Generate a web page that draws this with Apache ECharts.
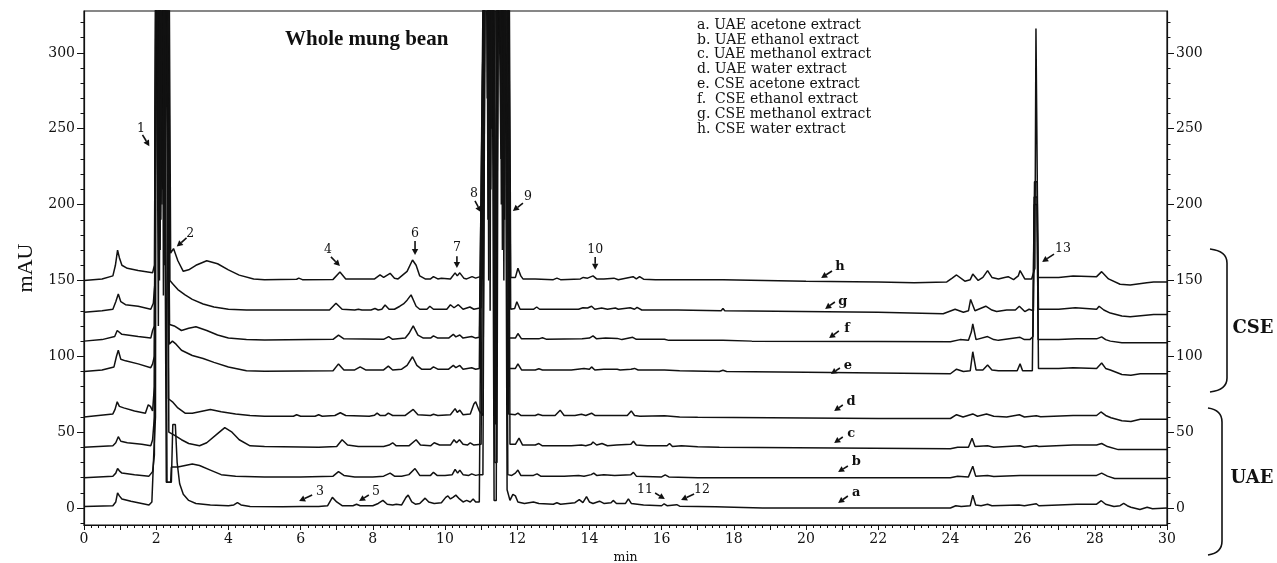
<!DOCTYPE html>
<html>
<head>
<meta charset="utf-8">
<title>Whole mung bean</title>
<script src="https://cdn.jsdelivr.net/npm/echarts@6/dist/echarts.min.js"></script>
<style>
  html, body { margin: 0; padding: 0; background: #fff; }
  #chart { width: 1277px; height: 563px; }
</style>
</head>
<body>
<div id="chart"></div>
<script>
// chromatograms, [min, mAU] (offsets already included)
// 400 = peak running off the top of the plot
const traceA = [[0,1],[0.8,1.5],[0.88,4],[0.93,10],[0.98,8],[1.05,6],[1.3,4.5],[1.6,3],[1.8,2],[1.88,4],[1.93,34],[1.98,60],[2.0,400],[2.05,400],[2.07,180],[2.1,400],[2.16,400],[2.18,210],[2.2,400],[2.24,400],[2.28,17],[2.42,17],[2.46,55],[2.53,55],[2.58,30],[2.65,16],[2.75,9],[2.9,5],[3.1,3],[3.5,2],[4.0,1.5],[4.15,2],[4.25,3.5],[4.35,2],[4.6,1],[5.5,0.8],[6.0,1],[6.5,1],[6.75,1.5],[6.88,7],[7.0,4],[7.15,1.5],[7.45,1.5],[7.55,2.5],[7.65,1.5],[8.0,1.5],[8.15,3],[8.28,5],[8.4,2.5],[8.55,2],[8.65,2.5],[8.8,2],[8.92,7],[8.98,8.5],[9.08,4],[9.18,2.5],[9.3,3],[9.45,6.5],[9.55,4],[9.7,3],[9.9,3.5],[10.02,7],[10.08,8],[10.15,6],[10.22,7],[10.3,8.5],[10.4,6],[10.5,4],[10.6,5],[10.7,4],[10.78,6],[10.85,4],[10.95,4],[11.0,5],[11.08,400],[11.18,400],[11.21,150],[11.24,400],[11.3,400],[11.36,5],[11.42,5],[11.46,400],[11.53,400],[11.56,200],[11.59,400],[11.66,400],[11.72,12],[11.8,5],[11.88,9],[11.95,8],[12.02,4],[12.2,3],[12.45,4],[12.6,3],[13.0,2.5],[13.1,3.5],[13.2,2.5],[13.6,3.5],[13.72,5.5],[13.82,3.5],[13.92,7.5],[14.0,4],[14.1,3],[14.28,4.5],[14.4,3],[14.6,3.5],[14.66,5],[14.75,3],[15.0,3],[15.08,6],[15.16,3],[15.5,2],[16.0,1.5],[16.07,2.8],[16.15,1.5],[16.42,2.2],[16.5,1.2],[17.0,1],[17.5,0.8],[18.0,0.5],[18.8,0],[24.0,0],[24.15,1.5],[24.3,1],[24.55,1.5],[24.62,8.5],[24.7,2],[24.85,1.5],[25.03,2.5],[25.15,1.5],[25.9,2],[25.95,3],[26.05,1.5],[26.38,2.8],[26.45,1.5],[27.0,2],[27.5,2.5],[28.05,2.5],[28.18,4.8],[28.3,2.5],[28.53,1],[28.7,1.5],[28.8,3],[28.9,1.5],[29.0,0.5],[29.25,-1],[29.45,0.5],[29.6,-0.5],[30,0]];
const traceB = [[0,20],[0.8,21],[0.88,23],[0.93,26],[0.98,24.5],[1.05,23],[1.4,22],[1.8,21],[1.9,24],[1.95,35],[1.99,400],[2.06,400],[2.09,150],[2.12,400],[2.19,400],[2.21,260],[2.23,400],[2.27,400],[2.3,17],[2.4,17],[2.42,27],[2.6,27],[2.8,28],[3.0,29],[3.2,28],[3.5,25],[3.8,22],[4.2,21],[5.0,20.5],[6.0,20.5],[6.9,21],[7.05,24],[7.2,21.5],[7.5,20.5],[8.0,20.5],[8.3,21],[8.48,23],[8.6,21],[8.8,21],[9.0,22],[9.17,26],[9.3,21.5],[9.6,21.5],[9.68,23.5],[9.78,21.5],[10.0,21.5],[10.2,22],[10.28,25.5],[10.35,23],[10.41,25],[10.5,22],[10.66,21.5],[10.74,22.5],[10.85,21.5],[10.95,22],[11.05,22],[11.12,400],[11.2,400],[11.23,240],[11.26,400],[11.32,400],[11.38,30],[11.44,30],[11.48,400],[11.56,400],[11.59,170],[11.62,400],[11.68,400],[11.74,22],[11.85,21.5],[11.95,23],[12.02,25],[12.1,21.5],[12.45,21.5],[12.55,22.5],[12.65,21],[13.3,21],[13.7,21.5],[13.85,21],[14.05,22],[14.12,23],[14.2,21.5],[14.4,22],[14.7,21.5],[15.15,22],[15.22,23.5],[15.3,21],[16.0,20.5],[16.1,21.8],[16.2,20.5],[17,20],[24.0,20],[24.2,21],[24.5,20.5],[24.62,27.5],[24.7,21],[25.03,21.5],[25.2,20.8],[25.93,21.5],[26.38,21.5],[27.4,21.5],[28.05,21.5],[28.19,23],[28.35,21],[28.55,19.5],[30,19.5]];
const traceC = [[0,40],[0.8,41],[0.88,43],[0.95,47],[1.02,44],[1.2,43],[1.6,42],[1.85,41],[1.9,45],[1.95,60],[2.0,400],[2.04,400],[2.06,120],[2.09,400],[2.14,400],[2.16,200],[2.19,400],[2.3,400],[2.35,50],[2.5,48],[2.7,45],[2.9,42.5],[3.2,41],[3.4,43],[3.7,49],[3.9,53],[4.1,50],[4.3,45],[4.6,41],[5.0,40.5],[6.5,40],[7.0,40.5],[7.15,45],[7.3,41.5],[7.6,40.5],[8.3,40.5],[8.45,41.5],[8.55,43],[8.65,41],[9.0,41],[9.2,45],[9.32,41.5],[9.6,41],[9.7,43],[9.85,41.5],[10.15,41.5],[10.25,45],[10.32,43],[10.4,45],[10.5,42],[10.62,41.5],[10.7,43],[10.8,41.5],[11.0,42],[11.1,400],[11.16,400],[11.19,190],[11.22,400],[11.35,400],[11.4,55],[11.45,55],[11.5,400],[11.58,400],[11.61,260],[11.64,400],[11.75,400],[11.8,42],[11.95,42],[12.05,46],[12.15,41.5],[12.5,41.5],[12.6,42.5],[12.7,41],[13.5,41],[13.78,41.5],[13.9,41],[14.05,42],[14.1,43.5],[14.2,41.5],[14.35,42.5],[14.5,41],[14.75,41.5],[15.15,42],[15.22,44],[15.3,41.5],[15.6,41],[16.15,41],[16.22,42.5],[16.3,40.5],[16.55,41],[17.0,40.3],[17.6,40],[24.0,39],[24.2,40],[24.5,40],[24.6,46],[24.68,40.5],[25.03,41],[25.2,40],[25.93,41],[26.05,40],[26.2,40.5],[26.38,41],[26.45,40.5],[27.4,41.5],[28.05,41.5],[28.19,42.5],[28.35,40.5],[28.65,38.5],[30,38.5]];
const traceD = [[0,60],[0.8,62],[0.86,65],[0.92,70],[0.98,67],[1.1,66],[1.4,64],[1.7,62.5],[1.78,68],[1.84,67],[1.9,64],[1.95,80],[1.99,400],[2.08,400],[2.11,170],[2.14,400],[2.2,400],[2.23,240],[2.26,400],[2.3,400],[2.34,72],[2.45,70],[2.6,66],[2.8,62.5],[3.0,62.5],[3.3,64],[3.5,65],[3.8,63.5],[4.2,62],[4.6,61],[5.0,60.5],[5.8,60.5],[5.89,61.5],[6.0,60.5],[6.4,60.5],[6.5,61.5],[6.6,60.5],[6.95,61],[7.1,62.8],[7.25,61],[7.9,60.5],[8.05,61.2],[8.12,62.5],[8.2,61],[8.35,61],[8.43,62.5],[8.55,61],[8.9,61],[9.12,65],[9.25,61.5],[9.6,61],[9.68,61.8],[9.8,61],[10.15,61.5],[10.28,65.5],[10.34,63],[10.41,64.5],[10.5,61.5],[10.7,62],[10.8,68.5],[10.85,70],[10.95,64],[11.05,61],[11.12,400],[11.22,400],[11.25,130],[11.28,400],[11.34,400],[11.39,70],[11.43,70],[11.47,400],[11.52,400],[11.55,230],[11.58,400],[11.7,400],[11.76,62],[11.95,61.5],[12.02,62.5],[12.1,61],[12.5,61],[12.58,61.8],[12.7,61],[13.05,61],[13.19,64.5],[13.3,61],[13.6,61],[13.78,61.8],[13.9,61],[14.06,62.5],[14.15,61],[15.05,61],[15.16,64],[15.25,61],[15.4,60.5],[16.08,60.8],[16.5,60],[17.0,59.8],[22,59],[24.0,59],[24.17,61.5],[24.35,60],[24.62,62],[24.75,60.5],[25.0,62],[25.2,60.5],[25.56,60],[25.91,61.5],[26.05,60],[26.38,60.8],[26.5,60.2],[27.4,61],[28.05,61],[28.17,63.3],[28.3,61],[28.45,59.5],[28.75,57.5],[29.0,57],[29.26,58.5],[30,58.5]];
const traceE = [[0,90],[0.5,91],[0.83,93],[0.9,100],[0.95,104],[1.02,98],[1.15,97],[1.5,95],[1.85,92.5],[1.9,95],[1.95,100],[2.01,400],[2.05,400],[2.08,230],[2.11,400],[2.17,400],[2.2,140],[2.23,400],[2.32,400],[2.36,108],[2.45,110],[2.55,108],[2.7,104],[3.0,100.5],[3.3,98.5],[3.6,96],[4.0,93],[4.5,90.5],[5.0,90.2],[6.9,90.5],[7.05,95],[7.2,91],[7.5,91],[7.65,93],[7.8,91],[8.3,91],[8.43,93.5],[8.55,91],[8.8,91.5],[8.95,94],[9.1,99.7],[9.22,94],[9.35,91.5],[9.6,91.5],[9.68,93],[9.8,91.5],[10.1,91.5],[10.23,94],[10.3,92.5],[10.41,94],[10.5,91.5],[10.74,92.5],[10.85,91.5],[10.95,92],[11.08,400],[11.14,400],[11.17,270],[11.2,400],[11.32,400],[11.37,110],[11.42,110],[11.47,400],[11.6,400],[11.63,150],[11.66,400],[11.72,400],[11.78,92],[11.95,92],[12.02,95],[12.12,91],[12.5,91],[12.6,91.8],[12.7,91],[13.5,91],[13.85,92],[14.0,91.5],[14.06,93],[14.15,91],[14.4,91.5],[14.77,91.5],[14.85,91],[15.15,91.5],[15.25,92],[15.35,91],[16.08,91],[16.5,90.5],[17.6,90],[17.7,90.8],[17.8,90],[20,89.5],[22,89],[24.0,88.5],[24.17,91.5],[24.36,90],[24.55,90.5],[24.62,103],[24.71,91],[24.9,91],[25.03,94.3],[25.15,91],[25.33,90.5],[25.6,90.5],[25.85,90.5],[25.93,95],[26.0,90.5],[26.27,90.5],[26.32,200],[26.4,200],[26.44,92],[27.0,92],[27.4,92.5],[28.05,92],[28.19,95.6],[28.3,92],[28.43,91],[28.75,88],[29.0,87.5],[29.26,88.5],[30,88.5]];
const traceF = [[0,110],[0.5,111],[0.85,113],[0.92,117],[0.97,118],[1.05,114.5],[1.5,113],[1.85,112],[1.9,117],[1.95,120],[2.02,400],[2.1,400],[2.13,190],[2.16,400],[2.22,400],[2.25,280],[2.28,400],[2.33,400],[2.37,121],[2.5,120],[2.7,117],[2.9,118.5],[3.1,119.5],[3.4,117],[3.7,114],[4.0,112],[4.5,111],[5.0,110.8],[6.9,111.2],[7.05,114],[7.2,111.5],[8.3,111.2],[8.44,113],[8.55,111.2],[8.9,112],[9.0,115],[9.12,120],[9.25,114],[9.4,112],[9.6,112],[9.68,113.5],[9.8,112],[10.1,112],[10.23,114.5],[10.3,112.8],[10.41,114],[10.5,112],[10.74,113],[10.85,112],[10.95,112.5],[11.1,400],[11.24,400],[11.27,210],[11.3,400],[11.33,400],[11.38,120],[11.43,120],[11.48,400],[11.54,400],[11.57,280],[11.6,400],[11.73,400],[11.78,112],[11.95,112],[12.02,115],[12.12,111.5],[12.6,111.5],[12.7,112.2],[12.8,111.3],[13.8,111.5],[14.0,112],[14.1,113.5],[14.2,111.5],[14.45,112],[14.77,111.8],[14.9,111],[15.2,112.5],[15.3,111.2],[16.08,111.3],[16.2,110.5],[17.7,110.5],[18.5,110],[22.0,109.8],[24.0,109.6],[24.27,111],[24.5,110.5],[24.58,116],[24.62,121.3],[24.71,111],[25.03,113],[25.2,111],[25.33,110.5],[25.93,112.5],[26.05,111],[26.2,111],[26.29,113],[26.32,205],[26.4,205],[26.43,111],[27.0,111],[27.5,111.5],[28.05,111.5],[28.19,112.8],[28.3,111],[28.43,110],[28.75,109],[30,109]];
const traceG = [[0,129],[0.5,130],[0.8,131],[0.88,136],[0.95,141],[1.02,136],[1.15,134],[1.5,133],[1.85,131],[1.92,135],[1.97,150],[2.0,400],[2.07,400],[2.1,270],[2.13,400],[2.21,400],[2.24,160],[2.27,400],[2.34,400],[2.38,150],[2.45,148],[2.6,144],[2.8,140.5],[3.0,137.5],[3.3,134.5],[3.6,132.5],[4.0,131],[4.5,130.5],[6.8,130.5],[6.98,135],[7.15,131],[7.5,130.5],[7.6,131],[7.7,130.5],[7.95,130.5],[8.06,131.5],[8.15,130.5],[8.25,131],[8.34,133.8],[8.45,131],[8.6,131],[8.75,133],[8.85,134.5],[8.95,137],[9.06,140.5],[9.2,133],[9.3,131],[9.5,131],[9.58,133],[9.68,131],[9.9,131],[10.05,131],[10.15,134],[10.25,132],[10.37,134],[10.5,131],[10.69,132.5],[10.8,131],[11.0,132],[11.1,400],[11.19,400],[11.22,300],[11.25,400],[11.34,400],[11.39,135],[11.44,135],[11.48,400],[11.62,400],[11.65,190],[11.68,400],[11.75,400],[11.82,131],[11.93,131.5],[11.99,136],[12.08,131],[12.45,131],[12.54,132.5],[12.62,131],[13.05,131],[13.1,131.5],[13.7,131],[13.82,132],[13.95,131.8],[14.06,133],[14.15,131],[14.34,131.8],[14.5,131],[14.72,131.8],[14.8,131],[15.13,132],[15.25,131],[15.32,132.2],[15.45,130.5],[16.45,130.5],[16.5,130],[17.65,130],[17.7,131.5],[17.75,130],[22.0,129],[23.8,128],[24.13,131],[24.36,129],[24.5,130],[24.56,137.5],[24.68,130],[24.98,133],[25.15,130.5],[25.28,129.5],[25.56,130.5],[25.8,130.5],[25.91,133],[26.06,129.5],[26.18,131],[26.3,130],[26.33,215],[26.4,215],[26.44,131],[27.0,131],[27.46,132],[28.05,131],[28.12,133],[28.25,130.5],[28.43,128.5],[28.75,126.5],[28.98,126],[29.63,127.5],[30,127.5]];
const traceH = [[0,150],[0.5,151],[0.8,153],[0.87,160],[0.93,170],[0.98,165],[1.05,160],[1.2,158],[1.5,156.5],[1.9,155],[1.95,160],[2.0,400],[2.05,400],[2.08,320],[2.11,400],[2.18,400],[2.21,250],[2.24,400],[2.35,400],[2.4,168],[2.48,171],[2.6,163],[2.75,156],[2.9,157],[3.1,160],[3.4,163],[3.7,161],[4.0,157],[4.3,153.5],[4.7,151],[5.0,150.5],[5.89,150.8],[5.95,151.5],[6.05,150.5],[6.9,150.7],[7.09,155.5],[7.25,151],[8.05,151],[8.2,153.6],[8.3,152],[8.48,154.7],[8.6,151.5],[8.7,151],[8.95,156],[9.1,163.5],[9.2,160],[9.3,153],[9.45,151],[9.6,151],[9.68,152.5],[9.8,151],[9.9,151.5],[10.15,151],[10.28,155],[10.34,153],[10.41,155],[10.52,151.5],[10.6,151],[10.75,152.5],[10.85,151.5],[10.97,152.5],[11.05,151],[11.12,400],[11.26,400],[11.29,250],[11.32,400],[11.4,400],[11.42,180],[11.45,400],[11.5,400],[11.53,310],[11.56,400],[11.77,400],[11.82,152],[11.95,152],[12.02,158],[12.1,153],[12.16,151],[12.5,151],[13.0,150.5],[13.1,151.5],[13.2,150.5],[13.75,151],[13.83,152],[13.95,151.5],[14.1,153],[14.2,151],[14.4,151],[14.68,151.5],[14.8,150.5],[15.21,152.5],[15.3,151],[15.39,152.5],[15.5,150.8],[15.83,150.5],[16.2,150.5],[17.7,150.5],[17.75,150],[20.0,149.5],[22.0,149],[23.0,148.5],[23.9,149],[24.05,151.5],[24.17,153.6],[24.4,149.5],[24.55,150.5],[24.62,154.2],[24.77,150],[24.9,152],[25.03,156.5],[25.15,152],[25.33,151],[25.5,152],[25.6,152.5],[25.75,150.5],[25.88,153],[25.93,156.5],[26.06,151],[26.25,151],[26.34,158],[26.37,316],[26.4,316],[26.43,152],[27.0,152],[27.4,153],[28.05,152.5],[28.19,155.8],[28.38,151],[28.7,147.5],[28.98,147],[29.44,148.5],[29.63,149],[30,149]];

const traceNames = ['a', 'b', 'c', 'd', 'e', 'f', 'g', 'h'];
const traces = [traceA, traceB, traceC, traceD, traceE, traceF, traceG, traceH];

const legendLines = [
  'a. UAE acetone extract',
  'b. UAE ethanol extract',
  'c. UAE methanol extract',
  'd. UAE water extract',
  'e. CSE acetone extract',
  'f.  CSE ethanol extract',
  'g. CSE methanol extract',
  'h. CSE water extract'
];

const yTickLabels = [0, 50, 100, 150, 200, 250, 300];
const yMinorTicks = [-10, 10, 20, 30, 40, 60, 70, 80, 90, 110, 120, 130, 140, 160, 170, 180, 190, 210, 220, 230, 240, 260, 270, 280, 290, 310, 320];
const xTickLabels = [0, 2, 4, 6, 8, 10, 12, 14, 16, 18, 20, 22, 24, 26, 28, 30];

// label, text [min, mAU], arrow from [min, mAU], arrow tip [min, mAU]
const peakNotes = [
  ['1', 1.58, 250, 1.62, 246, 1.81, 238.5],
  ['2', 2.94, 181, 2.84, 178, 2.57, 172.3],
  ['3', 6.54, 10.5, 6.32, 8.6, 5.96, 4.6],
  ['4', 6.76, 170, 6.84, 165.5, 7.09, 159.5],
  ['5', 8.09, 10.5, 7.89, 8.6, 7.62, 4.6],
  ['6', 9.17, 180.6, 9.17, 176, 9.17, 166.8],
  ['7', 10.33, 171.4, 10.33, 166, 10.33, 158.2],
  ['8', 10.8, 207, 10.83, 202.4, 11.0, 195],
  ['9', 12.3, 205, 12.16, 201, 11.88, 195.8],
  ['10', 14.16, 170, 14.16, 165.5, 14.16, 157],
  ['11', 15.54, 11.9, 15.82, 9.9, 16.09, 5.9],
  ['12', 17.12, 11.9, 16.9, 9.2, 16.54, 5.3],
  ['13', 27.12, 170.7, 26.87, 167.4, 26.54, 162.2]
];
const traceNotes = [
  ['h', 20.94, 158.9, 20.72, 156.2, 20.42, 151.6],
  ['g', 21.02, 135.8, 20.8, 135.8, 20.53, 131.2],
  ['f', 21.14, 118, 20.91, 116.7, 20.64, 112],
  ['e', 21.16, 93.6, 20.94, 92.3, 20.69, 88.3],
  ['d', 21.25, 69.9, 21.02, 67.9, 20.78, 63.9],
  ['c', 21.25, 48.8, 21.02, 46.8, 20.78, 42.8],
  ['b', 21.39, 30.3, 21.16, 27.7, 20.89, 23.7],
  ['a', 21.39, 9.9, 21.16, 7.9, 20.89, 3.3]
];

const yMin = -11.2;
const yMax = 327.6;
const serif = '"DejaVu Serif", serif';
const ink = '#111';

const chart = echarts.init(document.getElementById('chart'));

function yAxisPair(position) {
  return [
    {
      type: 'value',
      min: yMin,
      max: yMax,
      position: position,
      axisLine: { show: true, lineStyle: { color: ink, width: 1.2 } },
      axisTick: { show: true, length: 7, customValues: yTickLabels, lineStyle: { color: ink } },
      axisLabel: { customValues: yTickLabels, margin: 9, color: ink, fontFamily: serif, fontSize: 14 },
      splitLine: { show: false }
    },
    {
      type: 'value',
      min: yMin,
      max: yMax,
      position: position,
      axisLine: { show: false },
      axisTick: { show: true, length: 3.5, customValues: yMinorTicks, lineStyle: { color: ink } },
      axisLabel: { show: false },
      splitLine: { show: false }
    }
  ];
}

const yAxes = yAxisPair('left').concat(yAxisPair('right'));
yAxes[0].name = 'mAU';
yAxes[0].nameLocation = 'middle';
yAxes[0].nameGap = 46;
yAxes[0].nameTextStyle = { color: ink, fontFamily: '"Liberation Serif", serif', fontSize: 22 };

chart.setOption({
  animation: false,
  backgroundColor: '#fff',
  title: {
    text: 'Whole mung bean',
    left: 285,
    top: 29,
    padding: 0,
    textStyle: { color: ink, fontFamily: '"Liberation Serif", serif', fontWeight: 'bold', fontSize: 21 }
  },
  grid: {
    left: 84, right: 110, top: 11, bottom: 38,
    containLabel: false, outerBoundsMode: 'none',
    show: true, borderColor: ink, borderWidth: 1.2
  },
  xAxis: {
    type: 'value',
    min: 0,
    max: 30,
    interval: 1,
    name: 'min',
    nameLocation: 'middle',
    nameGap: 26,
    nameTextStyle: { color: ink, fontFamily: serif, fontSize: 12.5 },
    axisLine: { show: true, onZero: false, lineStyle: { color: ink, width: 1.2 } },
    axisTick: { show: true, length: 5, lineStyle: { color: ink } },
    minorTick: { show: true, splitNumber: 5, length: 3, lineStyle: { color: ink } },
    axisLabel: {
      margin: 7,
      color: ink,
      fontFamily: serif,
      fontSize: 14,
      formatter: function (v) { return xTickLabels.indexOf(v) >= 0 ? String(v) : ''; }
    },
    splitLine: { show: false }
  },
  yAxis: yAxes,
  series: traces.map(function (d, i) {
    return {
      name: traceNames[i],
      type: 'line',
      data: d,
      xAxisIndex: 0,
      yAxisIndex: 0,
      showSymbol: false,
      clip: true,
      silent: true,
      lineStyle: { color: ink, width: 1.5 }
    };
  })
});

function px(t, v) {
  return chart.convertToPixel({ xAxisIndex: 0, yAxisIndex: 0 }, [t, v]);
}

function arrow(t1, v1, t2, v2) {
  const a = px(t1, v1);
  const b = px(t2, v2);
  const dx = b[0] - a[0];
  const dy = b[1] - a[1];
  const len = Math.hypot(dx, dy);
  const ux = dx / len;
  const uy = dy / len;
  const hl = 6;
  const hw = 3.2;
  const base = [b[0] - ux * hl, b[1] - uy * hl];
  return [
    { type: 'line', shape: { x1: a[0], y1: a[1], x2: base[0], y2: base[1] }, style: { stroke: ink, lineWidth: 1.6 } },
    { type: 'polygon', shape: { points: [b, [base[0] - uy * hw, base[1] + ux * hw], [base[0] + uy * hw, base[1] - ux * hw]] }, style: { fill: ink } }
  ];
}

function note(n, font) {
  const p = px(n[1], n[2]);
  return [{ type: 'text', x: p[0], y: p[1], style: { text: n[0], fill: ink, font: font, align: 'center', verticalAlign: 'middle' } }]
    .concat(arrow(n[3], n[4], n[5], n[6]));
}

// curly brace on the right side, spanning two mAU values
function brace(vTop, vBottom, xLeft, xRight) {
  const top = px(0, vTop)[1];
  const bot = px(0, vBottom)[1];
  const r = 14;
  const st = { stroke: ink, lineWidth: 1.6, fill: null };
  return [
    { type: 'bezierCurve', shape: { x1: xLeft, y1: top, cpx1: xRight, cpy1: top + 2, x2: xRight, y2: top + r }, style: st },
    { type: 'line', shape: { x1: xRight, y1: top + r, x2: xRight, y2: bot - r }, style: st },
    { type: 'bezierCurve', shape: { x1: xRight, y1: bot - r, cpx1: xRight, cpy1: bot - 2, x2: xLeft, y2: bot }, style: st }
  ];
}

const graphics = [];
peakNotes.forEach(function (n) { graphics.push.apply(graphics, note(n, '12.5px ' + serif)); });
traceNotes.forEach(function (n) { graphics.push.apply(graphics, note(n, 'bold 13px ' + serif)); });

legendLines.forEach(function (s, i) {
  graphics.push({ type: 'text', x: 697, y: 25 + i * 14.9, style: { text: s, fill: ink, font: '14px ' + serif, align: 'left', verticalAlign: 'middle' } });
});

graphics.push.apply(graphics, brace(170.7, 76.5, 1210, 1227));
graphics.push.apply(graphics, brace(65.9, -31, 1208, 1222));
graphics.push({ type: 'text', x: 1253, y: px(0, 118.5)[1], style: { text: 'CSE', fill: ink, font: 'bold 18px ' + serif, align: 'center', verticalAlign: 'middle' } });
graphics.push({ type: 'text', x: 1252, y: px(0, 19.8)[1], style: { text: 'UAE', fill: ink, font: 'bold 18px ' + serif, align: 'center', verticalAlign: 'middle' } });

chart.setOption({ graphic: graphics });
</script>
</body>
</html>
